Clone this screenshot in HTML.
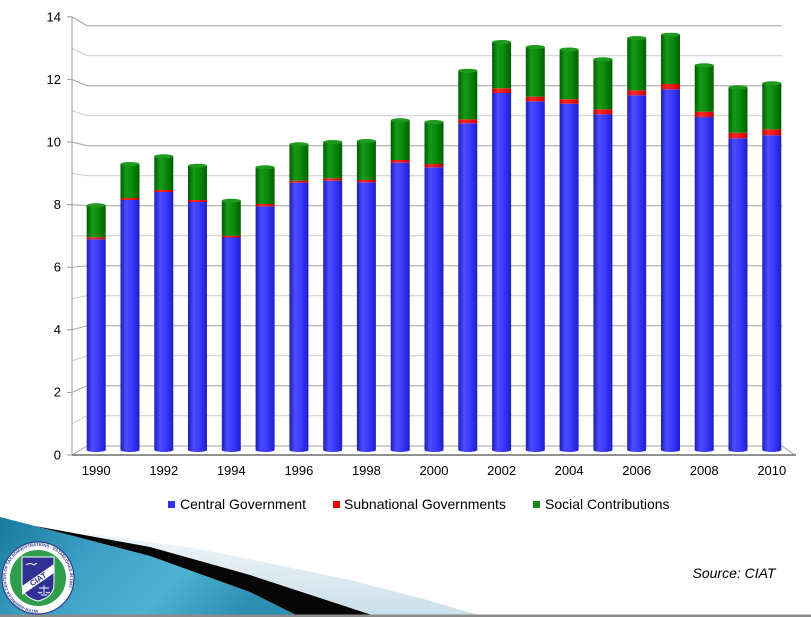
<!DOCTYPE html>
<html>
<head>
<meta charset="utf-8">
<style>
  html,body{margin:0;padding:0;background:#fff;}
  body{width:811px;height:617px;overflow:hidden;position:relative;}
  svg{position:absolute;left:0;top:0;}
  text{font-family:"Liberation Sans",Arial,sans-serif;}
</style>
</head>
<body>
<svg width="811" height="617" viewBox="0 0 811 617" xmlns="http://www.w3.org/2000/svg">
  <defs>
    <linearGradient id="gb" x1="0" y1="0" x2="1" y2="0">
      <stop offset="0" stop-color="#1c1cbc"/>
      <stop offset="0.3" stop-color="#4c4cff"/>
      <stop offset="0.6" stop-color="#3a3aff"/>
      <stop offset="1" stop-color="#1e1ec8"/>
    </linearGradient>
    <linearGradient id="gg" x1="0" y1="0" x2="1" y2="0">
      <stop offset="0" stop-color="#005c00"/>
      <stop offset="0.3" stop-color="#169a16"/>
      <stop offset="0.6" stop-color="#0c8a0c"/>
      <stop offset="1" stop-color="#006000"/>
    </linearGradient>
    <linearGradient id="gr" x1="0" y1="0" x2="1" y2="0">
      <stop offset="0" stop-color="#c00000"/>
      <stop offset="0.3" stop-color="#ff2a2a"/>
      <stop offset="1" stop-color="#c80000"/>
    </linearGradient>
    <linearGradient id="teal" x1="0" y1="0" x2="1" y2="0.3">
      <stop offset="0" stop-color="#17799c"/>
      <stop offset="0.35" stop-color="#3a9fc2"/>
      <stop offset="0.7" stop-color="#4eb2d2"/>
      <stop offset="1" stop-color="#2c8fb2"/>
    </linearGradient>
    <linearGradient id="lb" x1="0" y1="0" x2="0" y2="1">
      <stop offset="0" stop-color="#f2f7fa"/>
      <stop offset="1" stop-color="#c9dfe9"/>
    </linearGradient>
    <path id="ring" d="M 38,610 A 32,32 0 1,1 38.01,610"/>
  </defs>

  <!-- gridlines -->
  <g fill="none" stroke-width="1">
    <polyline points="72,16.8 87,25.7 782,25.7" stroke="#a0a0a0"/>
    <polyline points="72,48.1 87,55.7 782,55.7" stroke="#cacaca"/>
    <polyline points="72,79.4 87,85.7 782,85.7" stroke="#a0a0a0"/>
    <polyline points="72,110.7 87,115.7 782,115.7" stroke="#cacaca"/>
    <polyline points="72,142 87,145.7 782,145.7" stroke="#a0a0a0"/>
    <polyline points="72,173.3 87,175.7 782,175.7" stroke="#cacaca"/>
    <polyline points="72,204.6 87,205.7 782,205.7" stroke="#a0a0a0"/>
    <polyline points="72,235.9 87,235.7 782,235.7" stroke="#cacaca"/>
    <polyline points="72,267.2 87,265.7 782,265.7" stroke="#a0a0a0"/>
    <polyline points="72,298.5 87,295.7 782,295.7" stroke="#cacaca"/>
    <polyline points="72,329.8 87,325.7 782,325.7" stroke="#a0a0a0"/>
    <polyline points="72,361.1 87,355.7 782,355.7" stroke="#cacaca"/>
    <polyline points="72,392.4 87,385.7 782,385.7" stroke="#a0a0a0"/>
    <polyline points="72,423.7 87,415.7 782,415.7" stroke="#cacaca"/>
    <polyline points="72,455 87,446 782,446 795,455" stroke="#a0a0a0"/>
  </g>
  <g stroke="#999" stroke-width="1">
    <line x1="67" y1="16.8" x2="72" y2="16.8"/>
    <line x1="67" y1="79.4" x2="72" y2="79.4"/>
    <line x1="67" y1="142" x2="72" y2="142"/>
    <line x1="67" y1="204.6" x2="72" y2="204.6"/>
    <line x1="67" y1="267.2" x2="72" y2="267.2"/>
    <line x1="67" y1="329.8" x2="72" y2="329.8"/>
    <line x1="67" y1="392.4" x2="72" y2="392.4"/>
    <line x1="67" y1="455" x2="72" y2="455"/>
    <line x1="72" y1="16.5" x2="72" y2="455"/>
  </g>
  <line x1="72" y1="455" x2="796" y2="455" stroke="#808080" stroke-width="1.8"/>

  <g font-size="13" fill="#000" text-anchor="end">
    <text x="61" y="21.5">14</text>
    <text x="61" y="84">12</text>
    <text x="61" y="146.5">10</text>
    <text x="61" y="209">8</text>
    <text x="61" y="271.5">6</text>
    <text x="61" y="334">4</text>
    <text x="61" y="396.5">2</text>
    <text x="61" y="459.5">0</text>
  </g>

  <g>
    <rect x="86.7" y="239.3" width="19" height="210.7" fill="url(#gb)"/><ellipse cx="96.2" cy="450" rx="9.5" ry="2" fill="url(#gb)"/>
    <rect x="86.7" y="237.3" width="19" height="2" fill="url(#gr)"/>
    <rect x="86.7" y="205.3" width="19" height="32" fill="url(#gg)"/><ellipse cx="96.2" cy="205.3" rx="9.5" ry="2" fill="#1e9a1e"/>

    <rect x="120.5" y="200" width="19" height="250" fill="url(#gb)"/><ellipse cx="130" cy="450" rx="9.5" ry="2" fill="url(#gb)"/>
    <rect x="120.5" y="198" width="19" height="2" fill="url(#gr)"/>
    <rect x="120.5" y="164" width="19" height="34" fill="url(#gg)"/><ellipse cx="130" cy="164" rx="9.5" ry="2" fill="#1e9a1e"/>

    <rect x="154.3" y="192" width="19" height="258" fill="url(#gb)"/><ellipse cx="163.8" cy="450" rx="9.5" ry="2" fill="url(#gb)"/>
    <rect x="154.3" y="190" width="19" height="2" fill="url(#gr)"/>
    <rect x="154.3" y="156.3" width="19" height="33.7" fill="url(#gg)"/><ellipse cx="163.8" cy="156.3" rx="9.5" ry="2" fill="#1e9a1e"/>

    <rect x="188" y="202" width="19" height="248" fill="url(#gb)"/><ellipse cx="197.5" cy="450" rx="9.5" ry="2" fill="url(#gb)"/>
    <rect x="188" y="200" width="19" height="2" fill="url(#gr)"/>
    <rect x="188" y="165.7" width="19" height="34.3" fill="url(#gg)"/><ellipse cx="197.5" cy="165.7" rx="9.5" ry="2" fill="#1e9a1e"/>

    <rect x="221.8" y="237.5" width="19" height="212.5" fill="url(#gb)"/><ellipse cx="231.3" cy="450" rx="9.5" ry="2" fill="url(#gb)"/>
    <rect x="221.8" y="235.7" width="19" height="1.8" fill="url(#gr)"/>
    <rect x="221.8" y="200.7" width="19" height="35" fill="url(#gg)"/><ellipse cx="231.3" cy="200.7" rx="9.5" ry="2" fill="#1e9a1e"/>

    <rect x="255.6" y="206.3" width="19" height="243.7" fill="url(#gb)"/><ellipse cx="265.1" cy="450" rx="9.5" ry="2" fill="url(#gb)"/>
    <rect x="255.6" y="204" width="19" height="2.3" fill="url(#gr)"/>
    <rect x="255.6" y="167.3" width="19" height="36.7" fill="url(#gg)"/><ellipse cx="265.1" cy="167.3" rx="9.5" ry="2" fill="#1e9a1e"/>

    <rect x="289.4" y="182.7" width="19" height="267.3" fill="url(#gb)"/><ellipse cx="298.9" cy="450" rx="9.5" ry="2" fill="url(#gb)"/>
    <rect x="289.4" y="180.7" width="19" height="2" fill="url(#gr)"/>
    <rect x="289.4" y="144.3" width="19" height="36.4" fill="url(#gg)"/><ellipse cx="298.9" cy="144.3" rx="9.5" ry="2" fill="#1e9a1e"/>

    <rect x="323.2" y="180.7" width="19" height="269.3" fill="url(#gb)"/><ellipse cx="332.7" cy="450" rx="9.5" ry="2" fill="url(#gb)"/>
    <rect x="323.2" y="178.3" width="19" height="2.4" fill="url(#gr)"/>
    <rect x="323.2" y="142" width="19" height="36.3" fill="url(#gg)"/><ellipse cx="332.7" cy="142" rx="9.5" ry="2" fill="#1e9a1e"/>

    <rect x="356.9" y="182.3" width="19" height="267.7" fill="url(#gb)"/><ellipse cx="366.4" cy="450" rx="9.5" ry="2" fill="url(#gb)"/>
    <rect x="356.9" y="180" width="19" height="2.3" fill="url(#gr)"/>
    <rect x="356.9" y="141" width="19" height="39" fill="url(#gg)"/><ellipse cx="366.4" cy="141" rx="9.5" ry="2" fill="#1e9a1e"/>

    <rect x="390.7" y="162.7" width="19" height="287.3" fill="url(#gb)"/><ellipse cx="400.2" cy="450" rx="9.5" ry="2" fill="url(#gb)"/>
    <rect x="390.7" y="160" width="19" height="2.7" fill="url(#gr)"/>
    <rect x="390.7" y="120.3" width="19" height="39.7" fill="url(#gg)"/><ellipse cx="400.2" cy="120.3" rx="9.5" ry="2" fill="#1e9a1e"/>

    <rect x="424.5" y="167.3" width="19" height="282.7" fill="url(#gb)"/><ellipse cx="434" cy="450" rx="9.5" ry="2" fill="url(#gb)"/>
    <rect x="424.5" y="164" width="19" height="3.3" fill="url(#gr)"/>
    <rect x="424.5" y="122" width="19" height="42" fill="url(#gg)"/><ellipse cx="434" cy="122" rx="9.5" ry="2" fill="#1e9a1e"/>

    <rect x="458.3" y="123.3" width="19" height="326.7" fill="url(#gb)"/><ellipse cx="467.8" cy="450" rx="9.5" ry="2" fill="url(#gb)"/>
    <rect x="458.3" y="119.3" width="19" height="4" fill="url(#gr)"/>
    <rect x="458.3" y="70.7" width="19" height="48.6" fill="url(#gg)"/><ellipse cx="467.8" cy="70.7" rx="9.5" ry="2" fill="#1e9a1e"/>

    <rect x="492.1" y="93" width="19" height="357" fill="url(#gb)"/><ellipse cx="501.6" cy="450" rx="9.5" ry="2" fill="url(#gb)"/>
    <rect x="492.1" y="88.3" width="19" height="4.7" fill="url(#gr)"/>
    <rect x="492.1" y="42" width="19" height="46.3" fill="url(#gg)"/><ellipse cx="501.6" cy="42" rx="9.5" ry="2" fill="#1e9a1e"/>

    <rect x="525.8" y="101.3" width="19" height="348.7" fill="url(#gb)"/><ellipse cx="535.3" cy="450" rx="9.5" ry="2" fill="url(#gb)"/>
    <rect x="525.8" y="96.7" width="19" height="4.6" fill="url(#gr)"/>
    <rect x="525.8" y="47" width="19" height="49.7" fill="url(#gg)"/><ellipse cx="535.3" cy="47" rx="9.5" ry="2" fill="#1e9a1e"/>

    <rect x="559.6" y="103.7" width="19" height="346.3" fill="url(#gb)"/><ellipse cx="569.1" cy="450" rx="9.5" ry="2" fill="url(#gb)"/>
    <rect x="559.6" y="99.2" width="19" height="4.5" fill="url(#gr)"/>
    <rect x="559.6" y="49.5" width="19" height="49.7" fill="url(#gg)"/><ellipse cx="569.1" cy="49.5" rx="9.5" ry="2" fill="#1e9a1e"/>

    <rect x="593.4" y="114.3" width="19" height="335.7" fill="url(#gb)"/><ellipse cx="602.9" cy="450" rx="9.5" ry="2" fill="url(#gb)"/>
    <rect x="593.4" y="109.3" width="19" height="5" fill="url(#gr)"/>
    <rect x="593.4" y="59.3" width="19" height="50" fill="url(#gg)"/><ellipse cx="602.9" cy="59.3" rx="9.5" ry="2" fill="#1e9a1e"/>

    <rect x="627.2" y="95.3" width="19" height="354.7" fill="url(#gb)"/><ellipse cx="636.7" cy="450" rx="9.5" ry="2" fill="url(#gb)"/>
    <rect x="627.2" y="90.3" width="19" height="5" fill="url(#gr)"/>
    <rect x="627.2" y="38" width="19" height="52.3" fill="url(#gg)"/><ellipse cx="636.7" cy="38" rx="9.5" ry="2" fill="#1e9a1e"/>

    <rect x="661" y="89.3" width="19" height="360.7" fill="url(#gb)"/><ellipse cx="670.5" cy="450" rx="9.5" ry="2" fill="url(#gb)"/>
    <rect x="661" y="84" width="19" height="5.3" fill="url(#gr)"/>
    <rect x="661" y="34.7" width="19" height="49.3" fill="url(#gg)"/><ellipse cx="670.5" cy="34.7" rx="9.5" ry="2" fill="#1e9a1e"/>

    <rect x="694.7" y="117" width="19" height="333" fill="url(#gb)"/><ellipse cx="704.2" cy="450" rx="9.5" ry="2" fill="url(#gb)"/>
    <rect x="694.7" y="111.7" width="19" height="5.3" fill="url(#gr)"/>
    <rect x="694.7" y="65.3" width="19" height="46.4" fill="url(#gg)"/><ellipse cx="704.2" cy="65.3" rx="9.5" ry="2" fill="#1e9a1e"/>

    <rect x="728.5" y="138.3" width="19" height="311.7" fill="url(#gb)"/><ellipse cx="738" cy="450" rx="9.5" ry="2" fill="url(#gb)"/>
    <rect x="728.5" y="132.7" width="19" height="5.6" fill="url(#gr)"/>
    <rect x="728.5" y="87.3" width="19" height="45.4" fill="url(#gg)"/><ellipse cx="738" cy="87.3" rx="9.5" ry="2" fill="#1e9a1e"/>

    <rect x="762.3" y="135.3" width="19" height="314.7" fill="url(#gb)"/><ellipse cx="771.8" cy="450" rx="9.5" ry="2" fill="url(#gb)"/>
    <rect x="762.3" y="129.3" width="19" height="6" fill="url(#gr)"/>
    <rect x="762.3" y="83.3" width="19" height="46" fill="url(#gg)"/><ellipse cx="771.8" cy="83.3" rx="9.5" ry="2" fill="#1e9a1e"/>
  </g>

  <g font-size="13" fill="#000" text-anchor="middle">
    <text x="96.2" y="475">1990</text>
    <text x="163.8" y="475">1992</text>
    <text x="231.3" y="475">1994</text>
    <text x="298.9" y="475">1996</text>
    <text x="366.4" y="475">1998</text>
    <text x="434" y="475">2000</text>
    <text x="501.6" y="475">2002</text>
    <text x="569.1" y="475">2004</text>
    <text x="636.7" y="475">2006</text>
    <text x="704.2" y="475">2008</text>
    <text x="771.8" y="475">2010</text>
  </g>

  <g font-size="14" fill="#000">
    <rect x="168" y="501" width="7" height="7" fill="#3333ee"/>
    <text x="180" y="509">Central Government</text>
    <rect x="333" y="501" width="7" height="7" fill="#ee0000"/>
    <text x="344" y="509">Subnational Governments</text>
    <rect x="533" y="501" width="7" height="7" fill="#118811"/>
    <text x="545" y="509">Social Contributions</text>
  </g>

  <text x="692.5" y="578" font-size="14" font-style="italic" fill="#000">Source: CIAT</text>

  <!-- decorative swoosh -->
  <polygon points="50,528 200,549 350,580 420,598 485,617 378,617 250,575 150,547" fill="url(#lb)"/>
  <polygon points="0,517 35,526 150,556 250,592 300,617 0,617" fill="url(#teal)"/>
  <polygon points="35,526 150,547 250,575 378,617 300,617 250,592 150,556" fill="#050505"/>
  <rect x="0" y="614.5" width="811" height="2.5" fill="#8a8a8a"/>

  <!-- logo -->
  <circle cx="38" cy="578" r="36" fill="#fff" stroke="#2a3b8f" stroke-width="1.2"/>
  <text font-size="4.2" fill="#2a3b8f" font-family="Liberation Serif, serif" font-weight="bold"><textPath href="#ring">INTER-AMERICAN CENTER OF TAX ADMINISTRATIONS · ESTABLISHED IN 1967 ·</textPath></text>
  <circle cx="38" cy="578" r="28.5" fill="#2e9e4d" stroke="#fff" stroke-width="1"/>
  <path d="M 22,557 L 54,557 L 54,584 Q 54,597 38,601 Q 22,597 22,584 Z" fill="#2e3192" stroke="#fff" stroke-width="1"/>
  <polygon points="22,586 54,564 54,573 22,595" fill="#fff"/>
  <text x="38" y="582" font-size="8" font-weight="bold" fill="#2e3192" text-anchor="middle" font-family="Liberation Serif, serif" transform="rotate(-34 38 579)">CIAT</text>
  <path d="M 26,565 q 4,-3 8,0 l 3,-2" fill="none" stroke="#fff" stroke-width="1"/>
  <path d="M 44,585 l 0,9 M 39,588 l 10,0 M 38,592 q 2,2 4,0 M 46,592 q 2,2 4,0 M 41,595 l 6,0" fill="none" stroke="#fff" stroke-width="0.9"/>
</svg>
</body>
</html>
